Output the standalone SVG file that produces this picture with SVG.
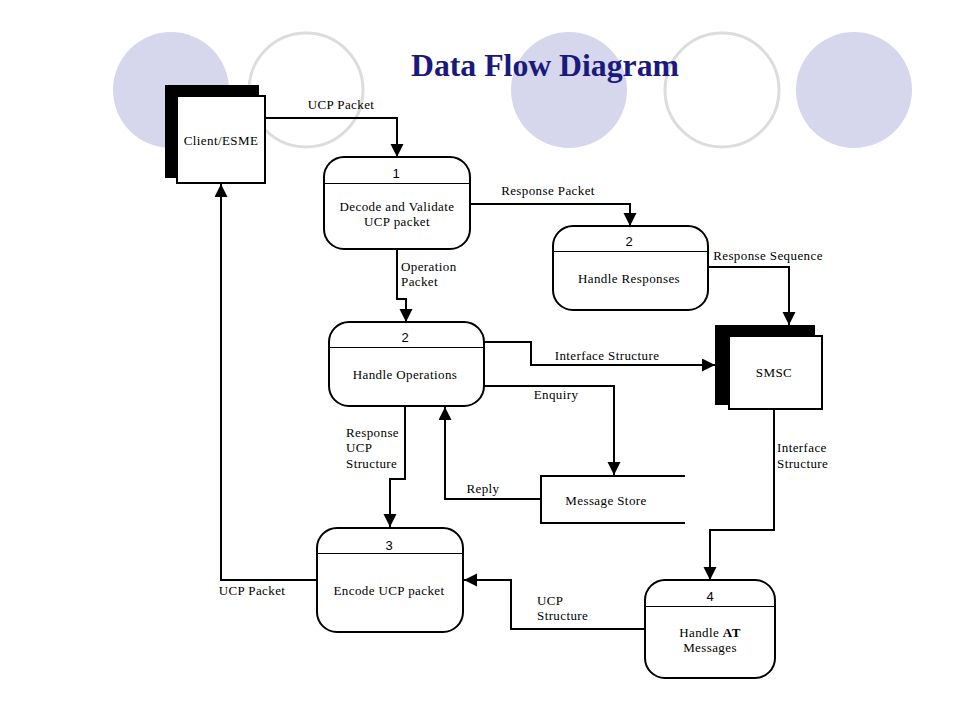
<svg xmlns="http://www.w3.org/2000/svg" width="960" height="720" viewBox="0 0 960 720">
<style>
.bgf{fill:#d6d6ec;stroke:none}
.bgo{fill:none;stroke:#dcdcdc;stroke-width:3}
.proc{fill:#fff;stroke:#000;stroke-width:2}
.div{stroke:#000;stroke-width:1}
.ext{fill:#fff;stroke:#000;stroke-width:2}
.sh{fill:#000}
.t{font-family:"Liberation Serif",serif;font-size:13px;letter-spacing:0.4px;fill:#000}
.n{font-family:"Liberation Sans",sans-serif;font-size:13px;fill:#000;text-anchor:middle}
.c{text-anchor:middle}
.flow{fill:none;stroke:#000;stroke-width:2;marker-end:url(#ah)}
.line{fill:none;stroke:#000;stroke-width:2}
</style>
<defs>
<marker id="ah" markerUnits="userSpaceOnUse" markerWidth="14" markerHeight="14" refX="13" refY="6.5" orient="auto">
<path d="M0,0 L13,6.5 L0,13 z" fill="#000"/>
</marker>
</defs>
<rect width="960" height="720" fill="#fff"/>
<g id="background">
<circle class="bgf" cx="171" cy="90" r="58"/>
<circle class="bgo" cx="306" cy="90" r="57"/>
<circle class="bgf" cx="569" cy="90" r="58"/>
<circle class="bgo" cx="722" cy="90" r="57"/>
<circle class="bgf" cx="854" cy="90" r="58"/>
</g>
<text x="545" y="76" text-anchor="middle" font-family="Liberation Serif, serif" font-weight="bold" font-size="31" fill="#1a1a7e" textLength="268" lengthAdjust="spacingAndGlyphs">Data Flow Diagram</text>

<g id="connectors">
<polyline class="flow" points="265,118 397,118 397,157"/>
<polyline class="flow" points="470,204 630,204 630,226"/>
<polyline class="flow" points="708,267 789,267 789,325"/>
<polyline class="flow" points="397,249 397,299 406,299 406,322"/>
<polyline class="flow" points="484,342 531,342 531,365 715,365"/>
<polyline class="flow" points="484,386 614,386 614,475"/>
<polyline class="flow" points="541,499 445,499 445,407"/>
<polyline class="flow" points="405,406 405,479 390,479 390,527"/>
<polyline class="flow" points="317,580 221,580 221,184"/>
<polyline class="flow" points="774,409 774,530 710,530 710,580"/>
<polyline class="flow" points="645,629 511,629 511,580 464,580"/>
<text class="t c" x="341" y="109">UCP Packet</text>
<text class="t c" x="548" y="195">Response Packet</text>
<text class="t c" x="768" y="260">Response Sequence</text>
<text class="t" x="401" y="271">Operation</text>
<text class="t" x="401" y="286">Packet</text>
<text class="t c" x="607" y="360">Interface Structure</text>
<text class="t c" x="556" y="399">Enquiry</text>
<text class="t c" x="483" y="493">Reply</text>
<text class="t" x="346" y="437">Response</text>
<text class="t" x="346" y="452">UCP</text>
<text class="t" x="346" y="468">Structure</text>
<text class="t c" x="252" y="595">UCP Packet</text>
<text class="t" x="777" y="452">Interface</text>
<text class="t" x="777" y="468">Structure</text>
<text class="t" x="537" y="605">UCP</text>
<text class="t" x="537" y="620">Structure</text>
</g>

<g id="client">
<rect class="sh" x="165" y="85" width="94" height="93"/>
<rect class="ext" x="177" y="96" width="88" height="87"/>
<text class="t c" x="221" y="145">Client/ESME</text>
</g>

<g id="p1">
<rect class="proc" x="324" y="157" width="146" height="92" rx="20"/>
<line class="div" x1="324" y1="183.5" x2="470" y2="183.5"/>
<text class="n" x="396" y="178">1</text>
<text class="t c" x="397" y="211">Decode and Validate</text>
<text class="t c" x="397" y="226">UCP packet</text>
</g>

<g id="p2r">
<rect class="proc" x="553" y="226" width="155" height="84" rx="20"/>
<line class="div" x1="553" y1="251.5" x2="708" y2="251.5"/>
<text class="n" x="629" y="246">2</text>
<text class="t c" x="629" y="283">Handle Responses</text>
</g>

<g id="smsc">
<rect class="sh" x="715" y="325" width="100" height="80"/>
<rect class="ext" x="729" y="336" width="93" height="73"/>
<text class="t c" x="774" y="377">SMSC</text>
</g>

<g id="p2o">
<rect class="proc" x="329" y="322" width="155" height="84" rx="20"/>
<line class="div" x1="329" y1="347.5" x2="484" y2="347.5"/>
<text class="n" x="405" y="342">2</text>
<text class="t c" x="405" y="379">Handle Operations</text>
</g>

<g id="store">
<path class="line" d="M685,476 H541 V523 H685"/>
<text class="t c" x="606" y="505">Message Store</text>
</g>

<g id="p3">
<rect class="proc" x="317" y="528" width="146" height="104" rx="20"/>
<line class="div" x1="317" y1="553.5" x2="463" y2="553.5"/>
<text class="n" x="389" y="550">3</text>
<text class="t c" x="389" y="595">Encode UCP packet</text>
</g>

<g id="p4">
<rect class="proc" x="645" y="580" width="130" height="98" rx="20"/>
<line class="div" x1="645" y1="606.5" x2="775" y2="606.5"/>
<text class="n" x="710" y="601">4</text>
<text class="t c" x="710" y="637">Handle <tspan font-weight="bold">AT</tspan></text>
<text class="t c" x="710" y="652">Messages</text>
</g>
</svg>
